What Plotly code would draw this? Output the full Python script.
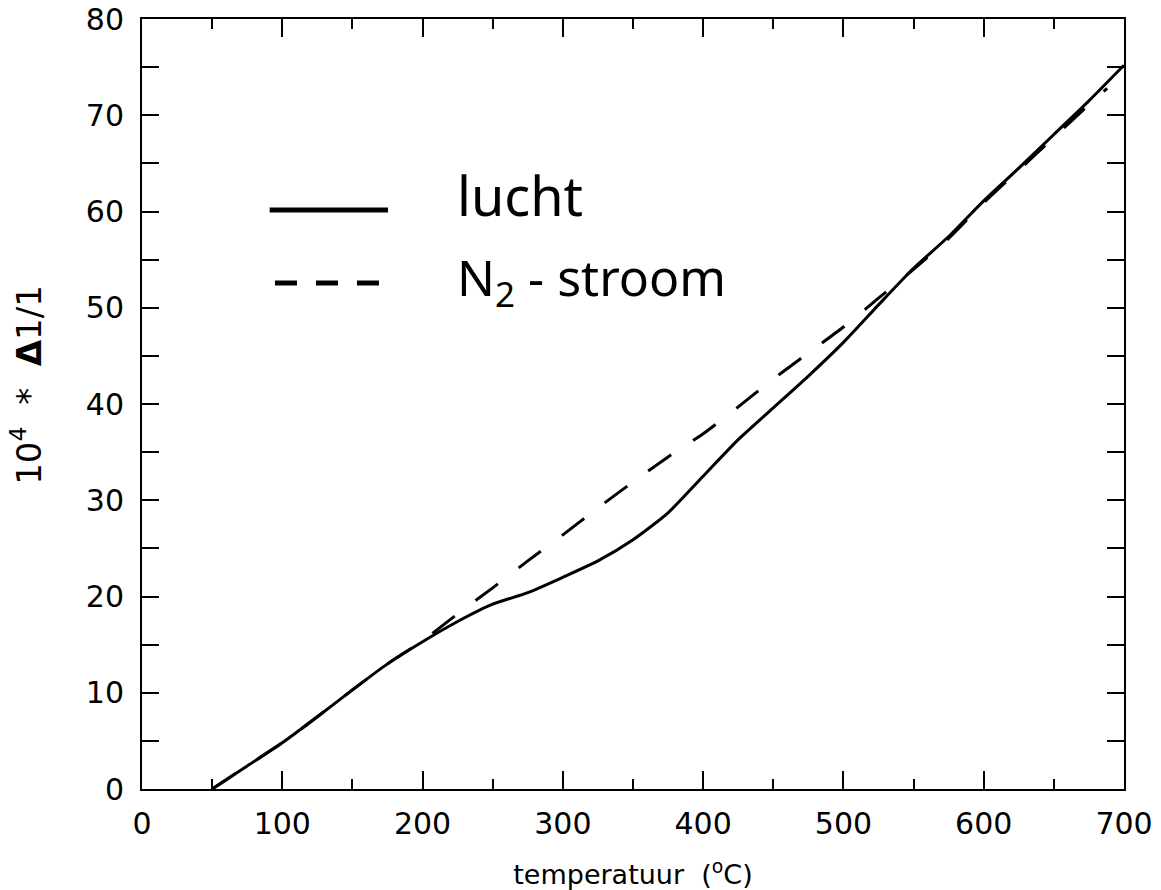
import plotly.graph_objects as go

# Temperature (deg C) and relative expansion 10^4 * dl/l
temp_lucht = [50, 75, 100, 125, 150, 175, 200, 225, 250, 275, 300, 325, 350,
              375, 400, 425, 450, 475, 500, 525, 550, 575, 600, 625, 650, 675, 700]
lucht = [0.0, 2.4, 4.8, 7.5, 10.3, 13.0, 15.3, 17.4, 19.2, 20.4, 22.0, 23.7, 25.9,
         28.7, 32.5, 36.3, 39.6, 42.9, 46.4, 50.3, 54.1, 57.4, 61.1, 64.5, 68.0, 71.5, 75.2]

temp_n2 = [50, 75, 100, 125, 150, 175, 200, 225, 250, 275, 300, 325, 350,
           375, 400, 425, 450, 475, 500, 525, 550, 575, 600, 625, 650, 675, 688]
n2_stroom = [0.0, 2.4, 4.8, 7.5, 10.3, 13.0, 15.4, 18.2, 20.9, 23.7, 26.4, 29.2, 31.9,
             34.5, 36.9, 39.7, 42.6, 45.3, 48.0, 51.0, 54.0, 57.2, 60.9, 64.3, 67.7, 71.1, 72.8]

x_ticks = [0, 100, 200, 300, 400, 500, 600, 700]
y_ticks = [0, 10, 20, 30, 40, 50, 60, 70, 80]

tick_font = dict(family="DejaVu Sans", size=30, color="black")
hand_font = dict(family="Noto Sans", size=54, color="black")
NBSP = "\u00a0"

fig = go.Figure()
fig.add_trace(go.Scatter(x=temp_lucht, y=lucht, mode="lines", name="lucht",
                         line=dict(color="black", width=3, shape="spline", smoothing=0.6)))
fig.add_trace(go.Scatter(x=temp_n2, y=n2_stroom, mode="lines", name="N2 - stroom",
                         line=dict(color="black", width=3, dash="28px,26px",
                                   shape="spline", smoothing=0.6)))

# hand-drawn style key inside the plot
fig.add_shape(type="line", xref="paper", yref="paper", x0=0.130, x1=0.2505, y0=0.752, y1=0.752,
              line=dict(color="black", width=5))
fig.add_shape(type="line", xref="paper", yref="paper", x0=0.1354, x1=0.2454, y0=0.657, y1=0.657,
              line=dict(color="black", width=5, dash="22px,19px"))
fig.add_annotation(xref="paper", yref="paper", x=0.3187, y=0.772, xanchor="left", yanchor="middle",
                   text="lucht", showarrow=False, font=hand_font)
fig.add_annotation(xref="paper", yref="paper", x=0.3187, y=0.661, xanchor="left", yanchor="middle",
                   text="N<sub>2</sub> - stroom", showarrow=False, font=dict(hand_font, size=50))

# vertical quantity label left of the y tick labels
fig.add_annotation(xref="paper", yref="paper", x=-0.118, y=0.525, xanchor="center", yanchor="middle",
                   textangle=-90, showarrow=False,
                   text="10<sup>4</sup>" + NBSP * 2 + "*" + NBSP * 2 + "<b>Δ</b>1/1",
                   font=dict(family="DejaVu Sans", size=34, color="black"))

axis_common = dict(showgrid=False, zeroline=False, showline=True, linecolor="black",
                   linewidth=2, mirror="ticks", ticks="inside", tickcolor="black",
                   tickwidth=2, tickfont=tick_font, automargin=False)

fig.update_xaxes(range=[0, 700], tickvals=x_ticks, ticklen=18, ticklabelstandoff=7,
                 minor=dict(dtick=50, tick0=0, ticks="inside", ticklen=10,
                            tickcolor="black", tickwidth=2),
                 title=dict(text="temperatuur" + NBSP * 2 + "(<sup>o</sup>C)",
                            font=dict(family="DejaVu Sans", size=27, color="black"),
                            standoff=27),
                 **axis_common)
fig.update_yaxes(range=[0, 80], tickvals=y_ticks, ticklen=17, ticklabelstandoff=10,
                 minor=dict(dtick=5, tick0=0, ticks="inside", ticklen=17,
                            tickcolor="black", tickwidth=2),
                 **axis_common)

fig.update_layout(width=1161, height=890, showlegend=False,
                  plot_bgcolor="white", paper_bgcolor="white",
                  margin=dict(l=142, r=37, t=19, b=101))

fig.write_html("out.html")
